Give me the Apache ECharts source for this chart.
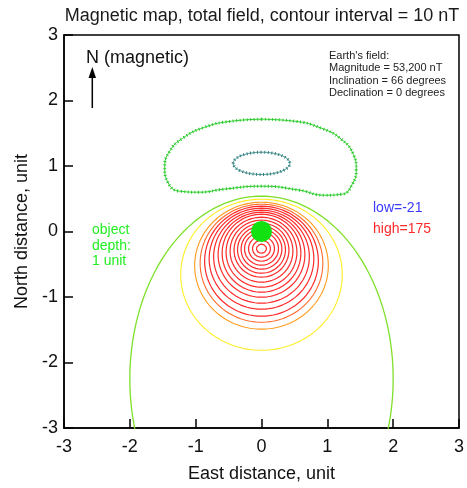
<!DOCTYPE html>
<html>
<head>
<meta charset="utf-8">
<script src="https://cdn.jsdelivr.net/npm/echarts@6/dist/echarts.min.js"></script>
<style>html,body{margin:0;padding:0;background:#fff}#c{width:467px;height:488px}</style>
</head>
<body>
<div id="c"></div>
<script>
// ---- data ----
// positive closed contours (levels in nT), approximated as ellipses centred on x = 0
const ringLevels  = [10, 20, 30, 40, 50, 60, 70, 80, 90, 100, 110, 120, 130, 140, 150, 160, 170];
const ringCenterY = [-0.66, -0.522, -0.484, -0.453, -0.415, -0.385, -0.354, -0.331, -0.316, -0.30, -0.285, -0.278, -0.27, -0.263, -0.263, -0.263, -0.263];
const ringRadiusX = [1.227, 1.015, 0.932, 0.864, 0.795, 0.727, 0.659, 0.598, 0.538, 0.477, 0.417, 0.364, 0.31, 0.258, 0.197, 0.136, 0.076];
const ringRadiusY = [1.153, 0.969, 0.901, 0.840, 0.771, 0.710, 0.649, 0.595, 0.534, 0.473, 0.412, 0.359, 0.305, 0.252, 0.191, 0.130, 0.069];
// zero contour (open at the bottom of the map)
const zeroCenterY = -2.25, zeroRadiusX = 2.0, zeroRadiusY = 2.79;
// -10 nT contour vertices (kidney-shaped low lobe)
const lowOuterX = [0, 0.50, 0.909, 1.212, 1.394, 1.439, 1.379, 1.227, 0.955, 0.576, 0, -0.576, -0.939, -1.242, -1.424, -1.470, -1.394, -1.197, -0.864, -0.455, 0];
const lowOuterY = [1.714, 1.684, 1.577, 1.409, 1.180, 0.951, 0.722, 0.570, 0.554, 0.631, 0.692, 0.646, 0.600, 0.615, 0.753, 0.982, 1.226, 1.424, 1.592, 1.684, 1.714];
// -20 nT contour
const lowInnerCenterY = 1.04, lowInnerRadiusX = 0.43, lowInnerRadiusY = 0.17;
// source position
const sourceX = [0], sourceY = [0];
const xTicks = [-3, -2, -1, 0, 1, 2, 3];
const yTicks = [-3, -2, -1, 0, 1, 2, 3];
const fieldInfo = ["Earth's field:", "Magnitude = 53,200 nT", "Inclination = 66 degrees", "Declination = 0 degrees"];

// ---- build ----
function ellipsePts(cx, cy, rx, ry) {
  const pts = [];
  const n = 180;
  for (let i = 0; i <= n; i++) {
    const t = Math.PI / 2 + 2 * Math.PI * i / n;
    pts.push([cx + rx * Math.cos(t), cy + ry * Math.sin(t)]);
  }
  return pts;
}
function ringColor(lv) {
  if (lv <= 10) return '#ffee22';
  if (lv <= 20) return '#ff9a1a';
  if (lv <= 30) return '#ff6a2a';
  return '#ff2a2a';
}
const FONT = 'Liberation Sans, Arial, sans-serif';
const series = [];
series.push({
  type: 'line', data: ellipsePts(0, zeroCenterY, zeroRadiusX, zeroRadiusY),
  showSymbol: false, clip: true, lineStyle: { color: '#7fe02a', width: 1.3 }, silent: true, z: 2
});
ringLevels.forEach((lv, i) => {
  series.push({
    type: 'line', data: ellipsePts(0, ringCenterY[i], ringRadiusX[i], ringRadiusY[i]),
    showSymbol: false, clip: true, lineStyle: { color: ringColor(lv), width: lv > 30 ? 1.2 : 1.1 }, silent: true, z: 2
  });
});
const outerPts = lowOuterX.map((x, i) => [x, lowOuterY[i]]);
const innerPts = ellipsePts(0, lowInnerCenterY, lowInnerRadiusX, lowInnerRadiusY);
[[outerPts, '#2ccc2c'], [innerPts, '#2e7f7f']].forEach(([pts, col]) => {
  series.push({ type: 'line', data: pts, smooth: 0.5, showSymbol: false, lineStyle: { color: col, width: 1 }, silent: true, z: 3 });
  series.push({ type: 'line', data: pts, smooth: 0.5, showSymbol: false, lineStyle: { color: col, width: 3, type: [1, 2.5] }, silent: true, z: 3 });
});
series.push({
  type: 'scatter', data: sourceX.map((x, i) => [x, sourceY[i]]), symbolSize: 21,
  itemStyle: { color: '#11e011', opacity: 1 }, silent: true, z: 10
});

const chart = echarts.init(document.getElementById('c'), null, { renderer: 'canvas' });
const axisCommon = {
  type: 'value', min: -3, max: 3, interval: 1,
  axisLine: { show: true, onZero: false, lineStyle: { color: '#000', width: 1.5 } },
  axisTick: { show: true, inside: true, length: 9, lineStyle: { color: '#000', width: 1.5 } },
  splitLine: { show: false },
  nameLocation: 'middle',
  nameTextStyle: { fontSize: 18, color: '#111', fontFamily: FONT }
};
chart.setOption({
  animation: false,
  grid: { left: 64, right: 7, top: 35, bottom: 58.5, show: true, borderColor: '#000', borderWidth: 1.5 },
  xAxis: Object.assign({}, axisCommon, {
    name: 'East distance, unit', nameGap: 37,
    axisLabel: { color: '#111', fontSize: 18, margin: 10, fontFamily: FONT, formatter: v => xTicks.includes(v) ? String(v) : '' }
  }),
  yAxis: Object.assign({}, axisCommon, {
    name: 'North distance, unit', nameGap: 33,
    axisLabel: { color: '#111', fontSize: 18, margin: 6, fontFamily: FONT, formatter: v => yTicks.includes(v) ? String(v) : '' }
  }),
  series: series,
  graphic: [
    { type: 'text', x: 262, y: 16, style: { text: 'Magnetic map, total field, contour interval = 10 nT', font: '18px ' + FONT, fill: '#1a1a1a', textAlign: 'center', textVerticalAlign: 'middle' } },
    { type: 'text', x: 329, y: 50, style: { text: fieldInfo.join('\n'), font: '11px ' + FONT, lineHeight: 12.3, fill: '#222', textAlign: 'left', textVerticalAlign: 'top' } },
    { type: 'text', x: 86, y: 58, style: { text: 'N (magnetic)', font: '18px ' + FONT, fill: '#111', textAlign: 'left', textVerticalAlign: 'middle' } },
    { type: 'line', shape: { x1: 92.3, y1: 108, x2: 92.3, y2: 74 }, style: { stroke: '#000', lineWidth: 1.5 } },
    { type: 'polygon', shape: { points: [[88.5, 78], [96, 78], [92.3, 67]] }, style: { fill: '#000' } },
    { type: 'text', x: 92, y: 222, style: { text: 'object\ndepth:\n1 unit', font: '14px ' + FONT, lineHeight: 15.8, fill: '#22ee22', textAlign: 'left', textVerticalAlign: 'top' } },
    { type: 'text', x: 373, y: 208, style: { text: 'low=-21', font: '14px ' + FONT, fill: '#3a3aff', textAlign: 'left', textVerticalAlign: 'middle' } },
    { type: 'text', x: 373, y: 229, style: { text: 'high=175', font: '14px ' + FONT, fill: '#ff2a2a', textAlign: 'left', textVerticalAlign: 'middle' } }
  ]
});
</script>
</body>
</html>
